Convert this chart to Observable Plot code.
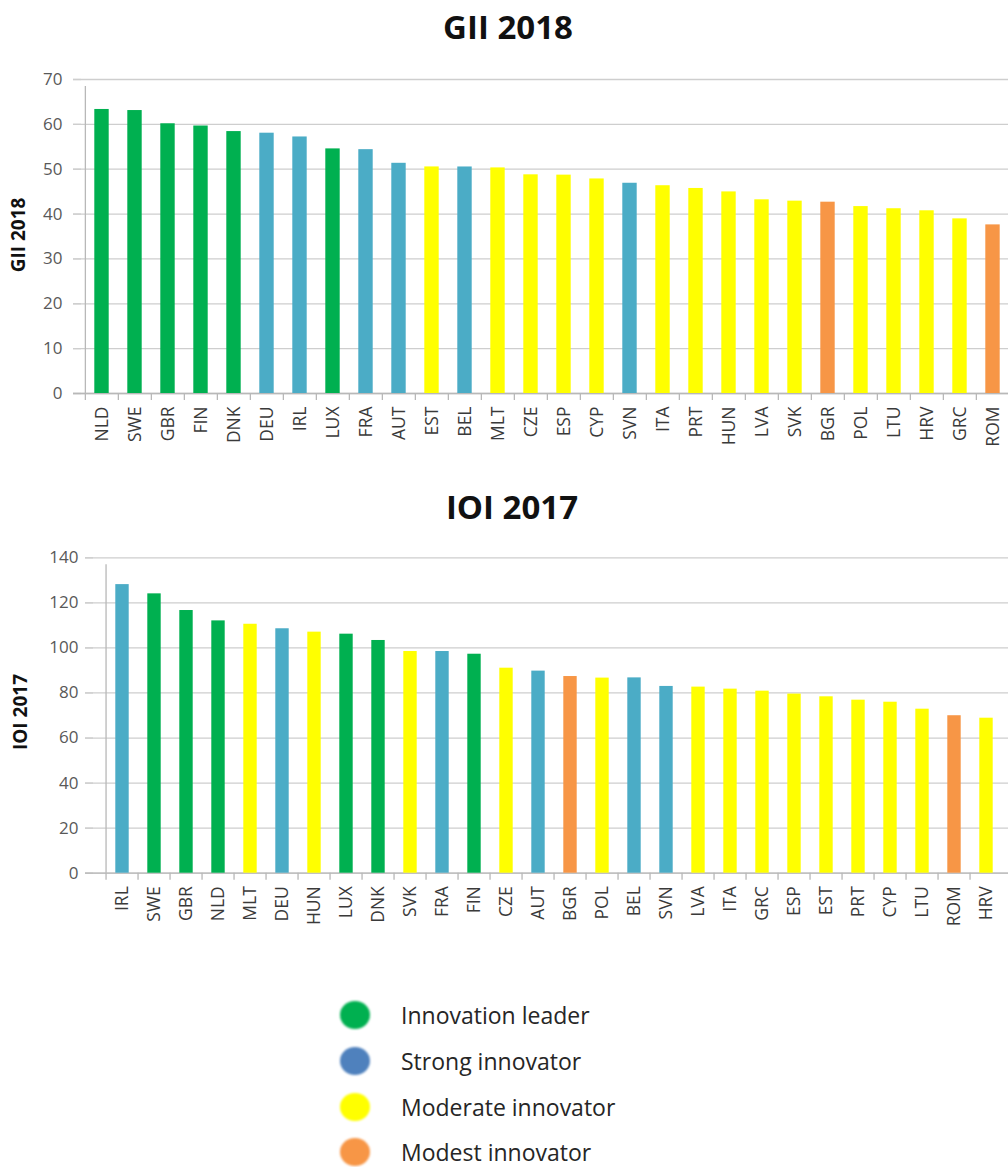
<!DOCTYPE html>
<html>
<head>
<meta charset="utf-8">
<script src="https://cdn.jsdelivr.net/npm/d3@7"></script>
<script src="https://cdn.jsdelivr.net/npm/@observablehq/plot@0.6"></script>
<style>
  html, body { margin: 0; padding: 0; background: #fff; }
  #page { position: relative; width: 1008px; height: 1167px; overflow: hidden; font-family: "Open Sans", sans-serif; }
  .title { position: absolute; left: 0; text-align: center; font-weight: 700; font-size: 33px; line-height: 33px; color: #111; }
  .ylab { position: absolute; font-weight: 700; font-size: 19px; line-height: 19px; color: #111; transform: translate(-50%, -50%) rotate(-90deg); white-space: nowrap; }
  .chart { position: absolute; left: 0; width: 1060px; }
  .chart svg { max-width: none !important; }
  .legend-row { position: absolute; left: 340px; height: 34px; display: flex; align-items: center; }
  .dot { width: 30px; height: 28px; border-radius: 50%; filter: blur(1px); margin-right: 31px; }
  .legend-row span { font-size: 23px; color: #262626; }
</style>
</head>
<body>
<div id="page">
  <div class="title" style="top:10px; width:1016px;">GII 2018</div>
  <div class="ylab" style="left:18px; top:235px;">GII 2018</div>
  <div class="chart" id="gii" style="top:60px;"></div>
  <div class="title" style="top:490px; width:1024px;">IOI 2017</div>
  <div class="ylab" style="left:20px; top:712px;">IOI 2017</div>
  <div class="chart" id="ioi" style="top:540px;"></div>
  <div id="legend"></div>
</div>
<script>
// Innovation tiers and the countries in each
const tiers = ["Innovation leader", "Strong innovator", "Moderate innovator", "Modest innovator"];
const tierBarColors = ["#00b050", "#4bacc6", "#ffff00", "#f79646"];
const tierLegendColors = ["#00b050", "#4f81bd", "#ffff00", "#f79646"];
const innovationLeaders = ["NLD", "SWE", "GBR", "FIN", "DNK", "LUX"];
const strongInnovators = ["DEU", "IRL", "FRA", "AUT", "BEL", "SVN"];
const moderateInnovators = ["EST", "MLT", "CZE", "ESP", "CYP", "ITA", "PRT", "HUN", "LVA", "SVK", "POL", "LTU", "HRV", "GRC"];
const modestInnovators = ["BGR", "ROM"];

// Global Innovation Index 2018
const giiCountries = ["NLD", "SWE", "GBR", "FIN", "DNK", "DEU", "IRL", "LUX", "FRA", "AUT", "EST", "BEL", "MLT", "CZE",
  "ESP", "CYP", "SVN", "ITA", "PRT", "HUN", "LVA", "SVK", "BGR", "POL", "LTU", "HRV", "GRC", "ROM"];
const giiValues = [63.32, 63.08, 60.13, 59.63, 58.39, 58.03, 57.19, 54.53, 54.36, 51.32, 50.51, 50.50, 50.29, 48.75,
  48.68, 47.83, 46.87, 46.32, 45.71, 44.94, 43.18, 42.88, 42.65, 41.67, 41.19, 40.73, 38.93, 37.59];
const giiTicks = [0, 10, 20, 30, 40, 50, 60, 70];

// IOI 2017
const ioiCountries = ["IRL", "SWE", "GBR", "NLD", "MLT", "DEU", "HUN", "LUX", "DNK", "SVK", "FRA", "FIN", "CZE", "AUT",
  "BGR", "POL", "BEL", "SVN", "LVA", "ITA", "GRC", "ESP", "EST", "PRT", "CYP", "LTU", "ROM", "HRV"];
const ioiValues = [128.1, 124.0, 116.6, 112.0, 110.5, 108.5, 107.0, 106.1, 103.3, 98.4, 98.4, 97.2, 91.0, 89.7,
  87.3, 86.6, 86.7, 82.9, 82.6, 81.7, 80.8, 79.5, 78.3, 76.8, 75.9, 72.8, 69.9, 68.8];
const ioiTicks = [0, 20, 40, 60, 80, 100, 120, 140];

const tierOf = new Map();
[innovationLeaders, strongInnovators, moderateInnovators, modestInnovators]
  .forEach((list, i) => list.forEach(c => tierOf.set(c, tiers[i])));

const gridColor = "#cecece";
const axisColor = "#b8b8b8";

function barChart({countries, values, ticks, width, height, marginLeft, marginRight, marginTop, marginBottom, tickPadding}) {
  const rows = countries.map((country, i) => ({country, value: values[i], tier: tierOf.get(country)}));
  const step = (width - marginLeft - marginRight) / countries.length;
  const yMax = ticks[ticks.length - 1];
  return Plot.plot({
    width, height, marginLeft, marginRight, marginTop, marginBottom,
    style: {fontFamily: "Open Sans, sans-serif", fontSize: "17px", background: "transparent", maxWidth: "none"},
    x: {type: "band", domain: countries, padding: 0},
    y: {domain: [0, yMax]},
    color: {domain: tiers, range: tierBarColors},
    marks: [
      Plot.gridY(ticks, {stroke: gridColor, strokeOpacity: 1, strokeWidth: 1.3, insetLeft: -8}),
      Plot.axisY({ticks, tickSize: 8, tickPadding, stroke: gridColor, strokeWidth: 1.3, fill: "#595959", label: null}),
      Plot.ruleY([0], {stroke: axisColor, strokeWidth: 1.3, insetLeft: -8}),
      // vertical axis line on the left edge of the first band
      Plot.ruleX([countries[0]], {y1: 0, y2: yMax, dx: -step / 2, stroke: axisColor, strokeWidth: 1.3, insetBottom: -7}),
      // category separator ticks under the baseline
      Plot.ruleX(countries, {y1: 0, y2: 0, dx: -step / 2, stroke: axisColor, strokeWidth: 1.3, insetBottom: -7}),
      Plot.barY(rows, {x: "country", y: "value", fill: "tier", insetLeft: 9.3, insetRight: 9.3}),
      Plot.axisX({tickSize: 0, tickPadding: 13, tickRotate: -90, fill: "#3a3a3a", fontSize: 17.5, label: null})
    ]
  });
}

document.getElementById("gii").append(barChart({
  countries: giiCountries, values: giiValues, ticks: giiTicks,
  width: 1060, height: 400, marginLeft: 81, marginRight: 47.7, marginTop: 19, marginBottom: 67, tickPadding: 11
}));

document.getElementById("ioi").append(barChart({
  countries: ioiCountries, values: ioiValues, ticks: ioiTicks,
  width: 1060, height: 400, marginLeft: 93, marginRight: 46, marginTop: 17.3, marginBottom: 67.3, tickPadding: 7
}));

// Legend: one row per tier
const legend = document.getElementById("legend");
const legendCenters = [1015, 1061, 1107, 1152];
tiers.forEach((t, i) => {
  const row = document.createElement("div");
  row.className = "legend-row";
  row.style.top = (legendCenters[i] - 17) + "px";
  const dot = document.createElement("div");
  dot.className = "dot";
  dot.style.background = tierLegendColors[i];
  const label = document.createElement("span");
  label.textContent = t;
  row.append(dot, label);
  legend.append(row);
});
</script>
</body>
</html>
